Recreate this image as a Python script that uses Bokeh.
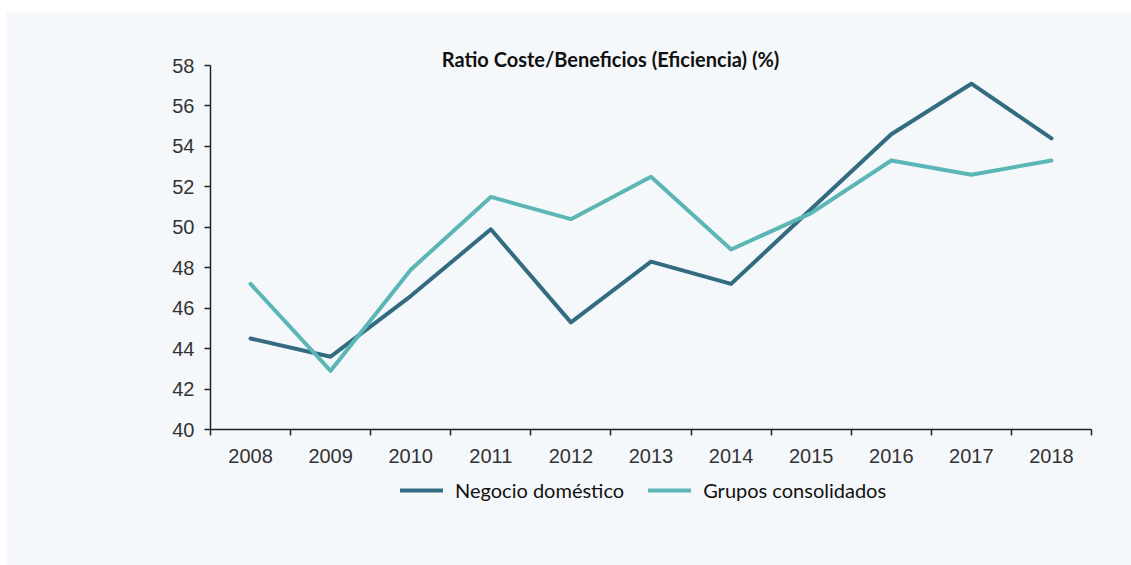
from bokeh.plotting import figure
from bokeh.models import Range1d, FixedTicker, Legend, LegendItem, Label
from bokeh.embed import file_html
from bokeh.resources import INLINE

years = [2008, 2009, 2010, 2011, 2012, 2013, 2014, 2015, 2016, 2017, 2018]
negocio_domestico = [44.5, 43.6, 46.6, 49.9, 45.3, 48.3, 47.2, 50.9, 54.6, 57.1, 54.4]
grupos_consolidados = [47.2, 42.9, 47.9, 51.5, 50.4, 52.5, 48.9, 50.7, 53.3, 52.6, 53.3]
y_ticks = [40, 42, 44, 46, 48, 50, 52, 54, 56, 58]
title_text = "Ratio Coste/Beneficios (Eficiencia) (%)"
series_names = ["Negocio doméstico", "Grupos consolidados"]

BG = "#f5f8fa"
DARK = "#336c80"
TEAL = "#5bb6b5"

x0, x1 = years[0] - 0.5, years[-1] + 0.5
y0, y1 = y_ticks[0], y_ticks[-1]
xpx = 881 / (x1 - x0)      # pixels per year
ypx = 364 / (y1 - y0)      # pixels per unit

p = figure(width=1125, height=553, output_backend="svg", toolbar_location=None,
           x_range=Range1d(x0 - 204 / xpx, x1 + 40 / xpx),
           y_range=Range1d(y0 - 136 / ypx, y1 + 53 / ypx),
           min_border=0, min_border_left=0, min_border_right=0, min_border_top=0, min_border_bottom=0,
           background_fill_color=BG, border_fill_color=BG, outline_line_color=None,
           margin=(12, 0, 0, 6))
p.grid.visible = False

r1 = p.line(years, negocio_domestico, line_color=DARK, line_width=4, line_cap="round", line_join="round")
r2 = p.line(years, grupos_consolidados, line_color=TEAL, line_width=4, line_cap="round", line_join="round")

xa = p.xaxis[0]
xa.fixed_location = y0
xa.bounds = (x0, x1)
xa.ticker = FixedTicker(ticks=years, minor_ticks=[y - 0.5 for y in years] + [years[-1] + 0.5])
xa.major_tick_out = 0
xa.major_tick_in = 0
xa.minor_tick_out = 6
xa.minor_tick_in = 0
xa.minor_tick_line_color = "#222222"
xa.axis_line_color = "#222222"
xa.axis_line_width = 1.5
xa.minor_tick_line_width = 1.5
xa.major_label_text_font = "Liberation Sans"
xa.major_label_text_font_size = "20px"
xa.major_label_text_color = "#333333"
xa.major_label_standoff = 13

ya = p.yaxis[0]
ya.fixed_location = x0
ya.bounds = (y0, y1)
ya.ticker = FixedTicker(ticks=y_ticks)
ya.major_tick_out = 6
ya.major_tick_in = 0
ya.minor_tick_out = 0
ya.minor_tick_in = 0
ya.axis_line_color = "#222222"
ya.major_tick_line_color = "#222222"
ya.axis_line_width = 1.5
ya.major_tick_line_width = 1.5
ya.major_label_text_font = "Liberation Sans"
ya.major_label_text_font_size = "20px"
ya.major_label_text_color = "#333333"
ya.major_label_standoff = 10

title = Label(x=x0 + 400 / xpx, y=y1 + 7 / ypx, text=title_text, text_align="center",
              text_baseline="middle", text_font="Lato", text_font_style="bold",
              text_font_size="20px", text_color="#111111")
p.add_layout(title)

legend = Legend(items=[LegendItem(label=series_names[0], renderers=[r1]),
                       LegendItem(label=series_names[1], renderers=[r2])],
                orientation="horizontal", location=(394, 63),
                background_fill_alpha=0, border_line_color=None,
                label_text_font="Lato", label_text_font_size="20px", label_text_color="#111111",
                glyph_width=43, label_standoff=12, spacing=24, padding=0, margin=0)
p.add_layout(legend)

open("out.html", "w").write(file_html(p, INLINE))
